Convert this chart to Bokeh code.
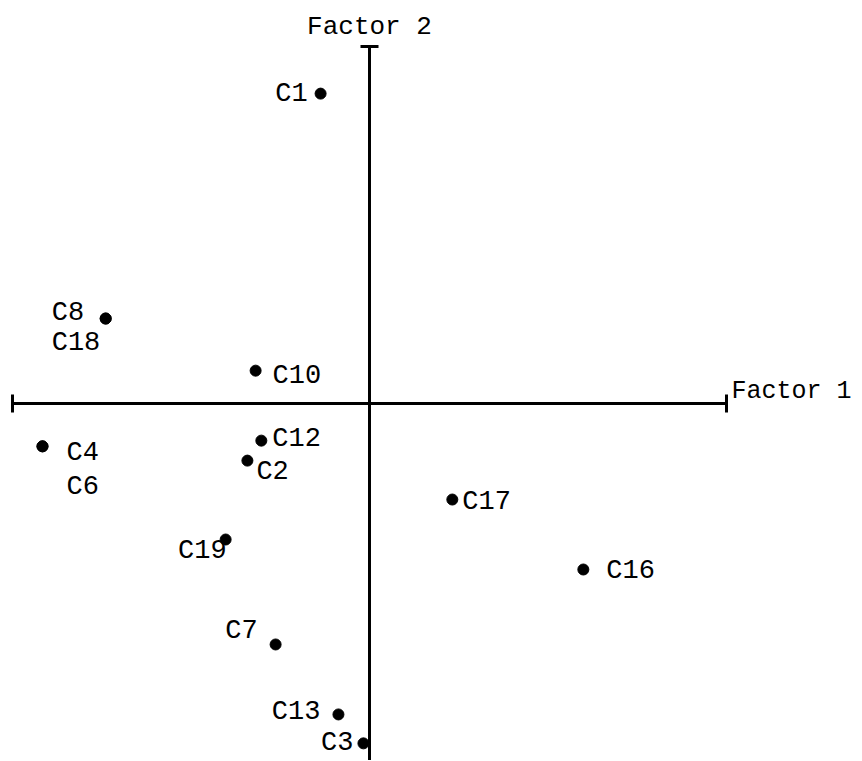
import math
from bokeh.plotting import figure
from bokeh.models import ColumnDataSource
from bokeh.core.properties import value
from bokeh.embed import file_html
from bokeh.resources import INLINE

# ---- data (factor scores) ----
names   = ["C1", "C8", "C18", "C10", "C4", "C6", "C12", "C2", "C19", "C7", "C13", "C3", "C17", "C16"]
factor1 = [-0.137, -0.739, -0.739, -0.319, -0.916, -0.916, -0.303, -0.342, -0.403, -0.263, -0.087, -0.017, 0.232, 0.599]
factor2 = [0.868, 0.238, 0.238, 0.092, -0.120, -0.120, -0.104, -0.160, -0.381, -0.675, -0.871, -0.952, -0.269, -0.465]
axis_titles = ["Factor 1", "Factor 2"]
axis_extent = 1.0

# ---- label placement (screen px) ----
label_dx    = [-13, -54, -54, 17, 24, 24, 11, 9, 1, -18, -18, -10, 10, 23]
label_dy    = [0, -6, 24, 5, 7, 41, -2, 11, 11, -13, -2, 0, 2, 1]
label_align = ["right", "left", "left", "left", "left", "left", "left", "left",
               "right", "right", "right", "right", "left", "left"]

W, H = 860, 760
scale = 357.0
x0 = -369 / scale
y1 = 403 / scale

p = figure(width=W, height=H, output_backend="svg", toolbar_location=None,
           x_range=(x0, x0 + W / scale), y_range=(y1 - H / scale, y1),
           min_border=0)
p.axis.visible = False
p.grid.visible = False
p.outline_line_color = None
p.background_fill_color = "white"
p.border_fill_color = "white"

FONT = value("Liberation Mono")
FS = "27px"

# axes lines
p.segment(x0=[-axis_extent, 0], y0=[0, -axis_extent], x1=[axis_extent, 0], y1=[0, axis_extent],
          line_color="black", line_width=3)
# end ticks
p.scatter(x=[-axis_extent, axis_extent], y=[0, 0], marker="dash", size=18,
          angle=math.pi / 2, line_color="black", line_width=3)
p.scatter(x=[0], y=[axis_extent], marker="dash", size=18,
          line_color="black", line_width=3)

# axis titles
p.text(x=[axis_extent], y=[0], text=[axis_titles[0]], x_offset=5, y_offset=-12,
       text_font=FONT, text_font_size="25px", text_align="left",
       text_baseline="middle", text_color="black")
p.text(x=[0], y=[axis_extent], text=[axis_titles[1]], x_offset=0, y_offset=-20,
       text_font=FONT, text_font_size="26px", text_align="center",
       text_baseline="middle", text_color="black")

src = ColumnDataSource(dict(x=factor1, y=factor2, name=names, dx=label_dx,
                            dy=label_dy, align=label_align))
p.scatter(x="x", y="y", source=src, size=11, fill_color="black", line_color="black")
p.text(x="x", y="y", text="name", x_offset="dx", y_offset="dy", text_align="align",
       source=src, text_font=FONT, text_font_size=FS,
       text_baseline="middle", text_color="black")

open("out.html", "w").write(file_html(p, INLINE))
